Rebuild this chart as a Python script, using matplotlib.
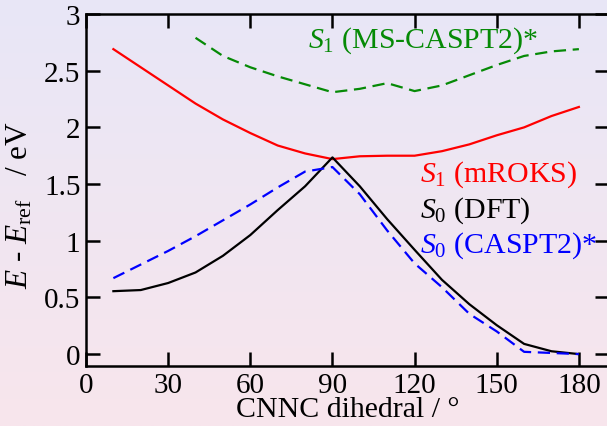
import numpy as np
import matplotlib
matplotlib.use("Agg")
import matplotlib.pyplot as plt
from matplotlib.colors import LinearSegmentedColormap

plt.rcParams['font.family'] = ['Liberation Serif', 'DejaVu Serif']
plt.rcParams['mathtext.fontset'] = 'custom'
plt.rcParams['mathtext.rm'] = 'Liberation Serif'
plt.rcParams['mathtext.it'] = 'Liberation Serif:italic'
plt.rcParams['font.size'] = 21

# dihedral angles (deg)
ang = [10, 20, 30, 40, 50, 60, 70, 80, 90, 100, 110, 120, 130, 140, 150, 160, 170, 180]
ang_ms = [40, 50, 60, 70, 80, 90, 100, 110, 120, 130, 140, 150, 160, 170, 180]

# energies relative to reference (eV)
s1_mroks = [2.69, 2.53, 2.37, 2.21, 2.07, 1.95, 1.84, 1.77, 1.72, 1.745, 1.75, 1.75,
            1.79, 1.85, 1.93, 2.00, 2.10, 2.18]
s0_dft = [0.555, 0.565, 0.627, 0.72, 0.867, 1.05, 1.27, 1.48, 1.735, 1.48, 1.19, 0.92,
          0.655, 0.44, 0.255, 0.09, 0.025, 0.0]
s0_caspt2 = [0.67, 0.79, 0.91, 1.04, 1.18, 1.32, 1.47, 1.61, 1.65, 1.41, 1.09, 0.80,
             0.59, 0.355, 0.20, 0.02, 0.01, 0.0]
s1_ms = [2.79, 2.63, 2.53, 2.45, 2.38, 2.31, 2.34, 2.39, 2.32, 2.37, 2.46, 2.55,
         2.63, 2.67, 2.69]

fig = plt.figure(figsize=(6.07, 4.27), dpi=100)

# soft vertical background gradient
bg = fig.add_axes([0, 0, 1, 1], zorder=-10)
cmap = LinearSegmentedColormap.from_list('bg', ['#e8e7f7', '#f8e5ec'])
bg.imshow(np.linspace(0, 1, 256).reshape(-1, 1), aspect='auto', cmap=cmap,
          extent=[0, 1, 0, 1])
bg.axis('off')

ax = fig.add_axes([86 / 607, 1 - 367 / 427, 523 / 607, 352 / 427])
ax.set_facecolor('none')

green = '#068a06'
dash = (0, (5.5, 3))
ax.plot(ang_ms, s1_ms, color=green, lw=1.6, ls=dash)
ax.plot(ang, s1_mroks, color='red', lw=1.6)
ax.plot(ang, s0_dft, color='black', lw=1.6)
ax.plot(ang, s0_caspt2, color='blue', lw=1.6, ls=dash)

ax.set_xlim(0, 191)
ax.set_ylim(-0.105, 3)
ax.set_xticks([0, 30, 60, 90, 120, 150, 180])
ax.set_yticks([0, 0.5, 1, 1.5, 2, 2.5, 3])
ax.set_yticklabels(['0', '0.5', '1', '1.5', '2', '2.5', '3'])
ax.tick_params(direction='in', length=10, width=1.8, top=True, right=True,
               labelsize=21, pad=4)
for sp in ax.spines.values():
    sp.set_linewidth(1.8)

fs = 21.5
ax.text(81, 2.71, r'$S_{\mathit{1}}$ (MS-CASPT2)*', color=green, fontsize=fs)
ax.text(122, 1.53, r'$S_{\mathit{1}}$ (mROKS)', color='red', fontsize=fs)
ax.text(122, 1.21, r'$S_{\mathit{0}}$ (DFT)', color='black', fontsize=fs)
ax.text(122, 0.90, r'$S_{\mathit{0}}$ (CASPT2)*', color='blue', fontsize=fs)

ax.set_xlabel('CNNC dihedral / °', fontsize=fs)
ax.xaxis.set_label_coords(0.5, -0.122)
ax.xaxis.label.set_va('center')
ax.set_ylabel(r'$E$ - $E_{\rm ref}$   / eV', fontsize=22.5)
ax.yaxis.set_label_coords(-0.126, 0.46)
ax.yaxis.label.set_va('center')

fig.savefig('out.png', dpi=100)
